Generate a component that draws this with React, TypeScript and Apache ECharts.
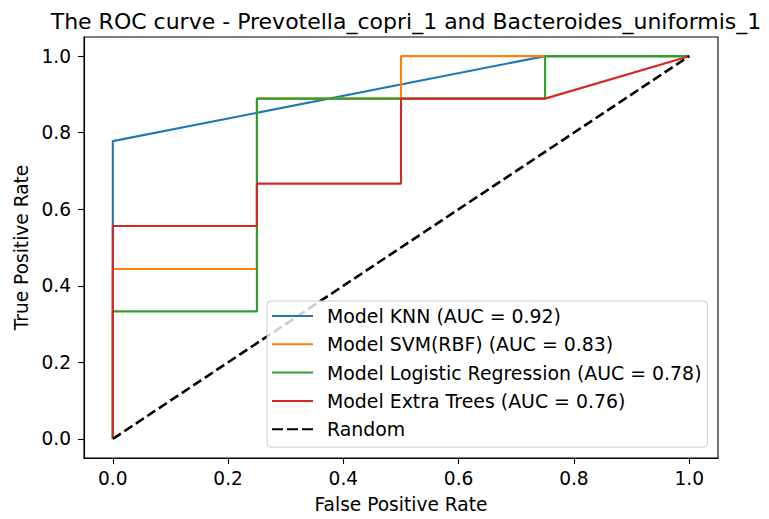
import React, { useEffect, useRef } from "react";
import * as echarts from "echarts";

const TITLE = "The ROC curve - Prevotella_copri_1 and Bacteroides_uniformis_1";
const TICKS = [0, 0.2, 0.4, 0.6, 0.8, 1.0];

const KNN_FPR = [0, 0, 0.75, 1];
const KNN_TPR = [0, 0.778, 1, 1];

const SVM_FPR = [0, 0, 0.25, 0.25, 0.5, 0.5, 1];
const SVM_TPR = [0, 0.444, 0.444, 0.889, 0.889, 1, 1];

const LR_FPR = [0, 0, 0.25, 0.25, 0.75, 0.75, 1];
const LR_TPR = [0, 0.333, 0.333, 0.889, 0.889, 1, 1];

const ET_FPR = [0, 0, 0.25, 0.25, 0.5, 0.5, 0.75, 1];
const ET_TPR = [0, 0.556, 0.556, 0.667, 0.667, 0.889, 0.889, 1];

const RANDOM_X = [0, 1];
const RANDOM_Y = [0, 1];

const NAMES = [
  "Model KNN (AUC = 0.92)",
  "Model SVM(RBF) (AUC = 0.83)",
  "Model Logistic Regression (AUC = 0.78)",
  "Model Extra Trees (AUC = 0.76)",
  "Random",
];
const COLORS = ["#1f77b4", "#ff7f0e", "#2ca02c", "#d62728", "#000000"];

const SOLID_ICON = "path://M0,0H41V2H0Z";
const DASH_ICON = "path://M0,0H11V2H0Z M15,0H26V2H15Z M30,0H41V2H30Z";

const zip = (xs: number[], ys: number[]) => xs.map((x, i) => [x, ys[i]]);

export default function App() {
  const ref = useRef<HTMLDivElement>(null);
  useEffect(() => {
    if (!ref.current) return;
    const chart = echarts.init(ref.current, undefined, { renderer: "svg" });
    const font = "DejaVu Sans";
    const fs = 18.6;
    const curves = [
      zip(KNN_FPR, KNN_TPR),
      zip(SVM_FPR, SVM_TPR),
      zip(LR_FPR, LR_TPR),
      zip(ET_FPR, ET_TPR),
      zip(RANDOM_X, RANDOM_Y),
    ];
    chart.setOption({
      animation: false,
      backgroundColor: "#ffffff",
      title: {
        text: TITLE,
        left: 401,
        top: 5,
        textAlign: "center",
        textStyle: { fontFamily: font, fontSize: 22, fontWeight: "normal", color: "#000" },
      },
      grid: {
        left: 84,
        right: 51,
        top: 37,
        bottom: 60,
        show: true,
        borderColor: "#000",
        borderWidth: 1.1,
        backgroundColor: "transparent",
      },
      legend: {
        orient: "vertical",
        left: 267,
        top: 301,
        padding: [5, 6, 8, 5],
        itemWidth: 41,
        itemHeight: 2,
        itemGap: 8.3,
        backgroundColor: "rgba(255,255,255,0.8)",
        borderColor: "#cccccc",
        borderWidth: 1,
        borderRadius: 4,
        z: 10,
        data: NAMES.map((n, i) => ({
          name: n,
          icon: i === 4 ? DASH_ICON : SOLID_ICON,
          itemStyle: { color: COLORS[i], borderWidth: 0 },
        })),
        textStyle: {
          fontFamily: font,
          fontSize: 18.9,
          color: "#000",
          lineHeight: 20,
          padding: [0, 0, 0, 9],
        },
      },
      xAxis: {
        type: "value",
        min: -0.05,
        max: 1.05,
        splitLine: { show: false },
        axisLine: { show: true, onZero: false, lineStyle: { color: "#000", width: 1.1 } },
        axisTick: { show: true, customValues: TICKS, length: 6, lineStyle: { color: "#000", width: 1.1 } },
        axisLabel: {
          customValues: TICKS,
          formatter: (v: number) => v.toFixed(1),
          fontFamily: font,
          fontSize: fs,
          color: "#000",
          margin: 11,
        },
        name: "False Positive Rate",
        nameLocation: "middle",
        nameGap: 37,
        nameTextStyle: { fontFamily: font, fontSize: fs, color: "#000" },
      },
      yAxis: {
        type: "value",
        min: -0.05,
        max: 1.05,
        splitLine: { show: false },
        axisLine: { show: true, onZero: false, lineStyle: { color: "#000", width: 1.1 } },
        axisTick: { show: true, customValues: TICKS, length: 6, lineStyle: { color: "#000", width: 1.1 } },
        axisLabel: {
          customValues: TICKS,
          formatter: (v: number) => v.toFixed(1),
          fontFamily: font,
          fontSize: fs,
          color: "#000",
          margin: 13,
        },
        name: "True Positive Rate",
        nameLocation: "middle",
        nameRotate: 90,
        nameGap: 52,
        nameTextStyle: { fontFamily: font, fontSize: fs, color: "#000" },
      },
      series: curves.map((d, i) => ({
        type: "line",
        name: NAMES[i],
        data: d,
        symbol: "none",
        showSymbol: false,
        color: COLORS[i],
        lineStyle:
          i === 4
            ? { color: COLORS[i], width: 2.6, type: [9.6, 4.2] }
            : { color: COLORS[i], width: 2.1 },
        z: 2 + i,
      })),
    });
    return () => chart.dispose();
  }, []);
  return (
    <div
      ref={ref}
      style={{ position: "fixed", left: 0, top: 0, width: 769, height: 519, background: "#fff" }}
    />
  );
}
